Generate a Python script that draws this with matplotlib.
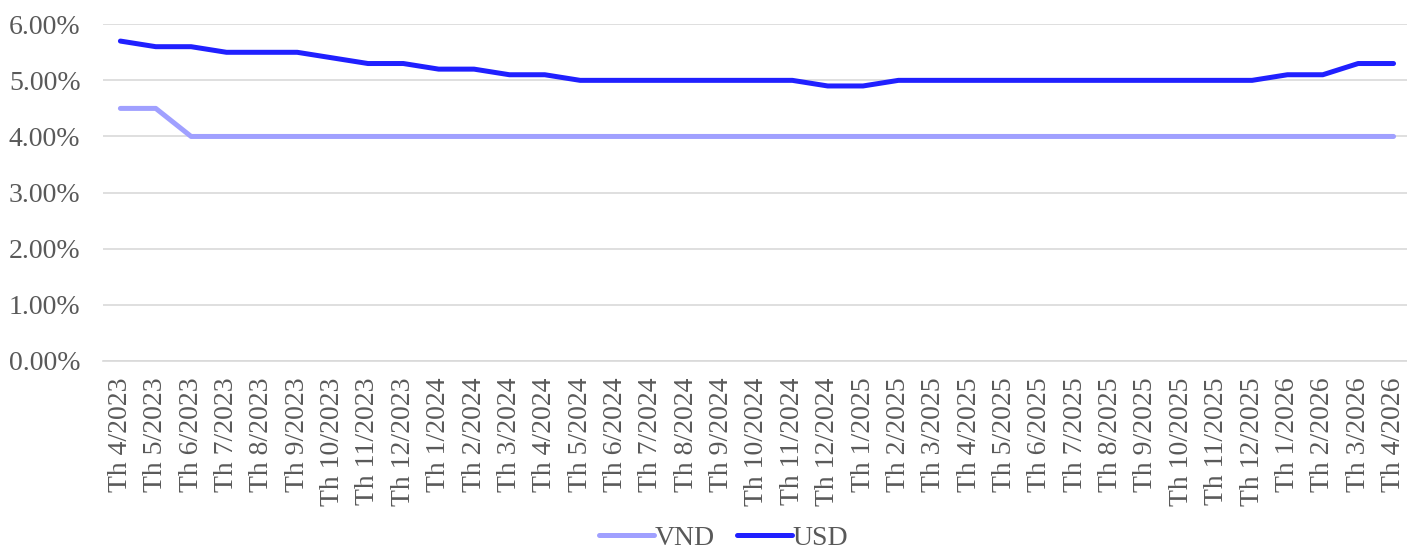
import matplotlib.pyplot as plt
from matplotlib.ticker import FuncFormatter

plt.rcParams['font.family'] = ['Liberation Serif', 'DejaVu Serif']

months = ['Th 4/2023', 'Th 5/2023', 'Th 6/2023', 'Th 7/2023', 'Th 8/2023', 'Th 9/2023',
          'Th 10/2023', 'Th 11/2023', 'Th 12/2023', 'Th 1/2024', 'Th 2/2024', 'Th 3/2024',
          'Th 4/2024', 'Th 5/2024', 'Th 6/2024', 'Th 7/2024', 'Th 8/2024', 'Th 9/2024',
          'Th 10/2024', 'Th 11/2024', 'Th 12/2024', 'Th 1/2025', 'Th 2/2025', 'Th 3/2025',
          'Th 4/2025', 'Th 5/2025', 'Th 6/2025', 'Th 7/2025', 'Th 8/2025', 'Th 9/2025',
          'Th 10/2025', 'Th 11/2025', 'Th 12/2025', 'Th 1/2026', 'Th 2/2026', 'Th 3/2026',
          'Th 4/2026']

vnd = [4.5, 4.5] + [4.0] * 35
usd = [5.7, 5.6, 5.6, 5.5, 5.5, 5.5, 5.4, 5.3, 5.3, 5.2, 5.2, 5.1, 5.1,
       5.0, 5.0, 5.0, 5.0, 5.0, 5.0, 5.0, 4.9, 4.9,
       5.0, 5.0, 5.0, 5.0, 5.0, 5.0, 5.0, 5.0, 5.0, 5.0, 5.0,
       5.1, 5.1, 5.3, 5.3]

fig = plt.figure(figsize=(14.07, 5.51), dpi=100)
ax = fig.add_axes([0.073, 0.345, 0.93, 0.611])

x = range(len(months))
ax.plot(x, vnd, color='#A0A0FF', lw=3.6, solid_capstyle='round', label='VND', zorder=3)
ax.plot(x, usd, color='#2020FF', lw=3.6, solid_capstyle='round', label='USD', zorder=3)

ax.set_xlim(-0.5, len(months) - 0.5)
ax.set_ylim(0, 6)
ax.set_yticks(range(0, 7))
ax.yaxis.set_major_formatter(FuncFormatter(lambda v, p: f'{v:.2f}%'))
ax.set_xticks(list(x))
ax.set_xticklabels(months, rotation=90)
ax.grid(axis='y', color='#D9D9D9', lw=1.2)
ax.set_axisbelow(True)
for s in ['top', 'right', 'left']:
    ax.spines[s].set_visible(False)
ax.spines['bottom'].set_color('#D9D9D9')
ax.spines['bottom'].set_linewidth(1.2)
ax.tick_params(length=0, labelsize=20, labelcolor='#595959')
ax.tick_params(axis='y', pad=16)
ax.tick_params(axis='x', pad=12)

leg = fig.legend(loc='lower center', bbox_to_anchor=(0.514, -0.045), ncol=2, frameon=False,
                 fontsize=20, handlelength=2.0, handletextpad=0.0, columnspacing=0.8)
for t in leg.get_texts():
    t.set_color('#595959')

fig.savefig('out.png', dpi=100)
